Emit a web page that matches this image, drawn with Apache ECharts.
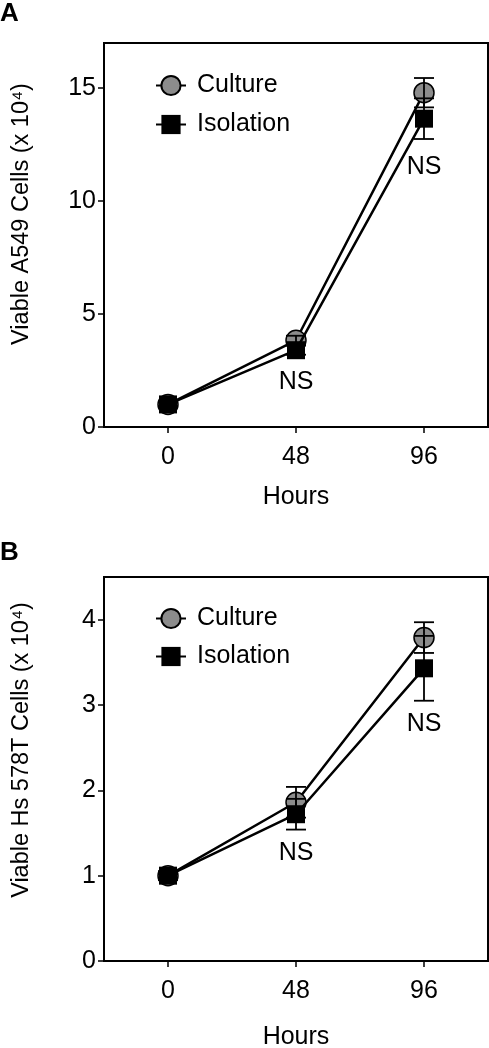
<!DOCTYPE html>
<html>
<head>
<meta charset="utf-8">
<script src="https://cdn.jsdelivr.net/npm/echarts@6/dist/echarts.min.js"></script>
<style>
html,body{margin:0;padding:0;background:#fff;}
#chart{width:489px;height:1048px;}
</style>
</head>
<body>
<div id="chart"></div>
<script>
// ---- data ----
const hours = [0, 48, 96];
const xTicks = [0, 48, 96];
const yTicksA = [0, 5, 10, 15];
const yTicksB = [0, 1, 2, 3, 4];
const cultureA = [1.0, 3.84, 14.8];
const cultureAErr = [0.1, 0.2, 0.65];
const isolationA = [1.0, 3.4, 13.65];
const isolationAErr = [0.1, 0.2, 0.9];
const cultureB = [1.0, 1.86, 3.79];
const cultureBErr = [0.05, 0.18, 0.18];
const isolationB = [1.0, 1.72, 3.43];
const isolationBErr = [0.05, 0.18, 0.38];
const nsA = [[48, 2.0], [96, 11.5]];
const nsB = [[48, 1.26], [96, 2.78]];
const seriesNames = ['Culture', 'Isolation'];
const yTitleA = 'Viable A549 Cells (x 10\u2074)';
const yTitleB = 'Viable Hs 578T Cells (x 10\u2074)';
const xTitle = 'Hours';

const FONT = 'Liberation Sans, Arial, sans-serif';
const FS = 25;
const FS_YT = 23.5;

function pairs(xs, ys) { return xs.map((x, i) => [x, ys[i]]); }
function errData(xs, ys, es) { return xs.map((x, i) => [x, ys[i] - es[i], ys[i] + es[i]]); }

function errRender(params, api) {
  const x = api.value(0);
  const lo = api.coord([x, api.value(1)]);
  const hi = api.coord([x, api.value(2)]);
  const hw = 10;
  const st = { stroke: '#000', lineWidth: 1.8 };
  return {
    type: 'group',
    children: [
      { type: 'line', shape: { x1: lo[0], y1: lo[1], x2: hi[0], y2: hi[1] }, style: st },
      { type: 'line', shape: { x1: lo[0] - hw, y1: lo[1], x2: lo[0] + hw, y2: lo[1] }, style: st },
      { type: 'line', shape: { x1: hi[0] - hw, y1: hi[1], x2: hi[0] + hw, y2: hi[1] }, style: st }
    ]
  };
}

function xAxisCfg(gi, gap) {
  return {
    type: 'value', gridIndex: gi, min: -24, max: 120, interval: 24,
    name: xTitle, nameLocation: 'middle', nameGap: gap,
    nameTextStyle: { fontFamily: FONT, fontSize: FS, color: '#000' },
    axisLine: { show: true, onZero: false, lineStyle: { color: '#000', width: 2 } },
    axisTick: { show: true, inside: false, length: 6, customValues: xTicks, lineStyle: { color: '#000', width: 1.5 } },
    axisLabel: { customValues: xTicks, margin: 18, fontFamily: FONT, fontSize: FS, color: '#000' },
    splitLine: { show: false }
  };
}
function yAxisCfg(gi, max, interval, ticks) {
  return {
    type: 'value', gridIndex: gi, min: 0, max: max, interval: interval,
    axisLine: { show: true, onZero: false, lineStyle: { color: '#000', width: 2 } },
    axisTick: { show: true, inside: false, length: 6, customValues: ticks, lineStyle: { color: '#000', width: 1.5 } },
    axisLabel: { customValues: ticks, margin: 8, fontFamily: FONT, fontSize: FS, color: '#000' },
    splitLine: { show: false }
  };
}

function lineSeries(name, gi, data, isCircle) {
  return {
    name: name, type: 'line', xAxisIndex: gi, yAxisIndex: gi,
    data: data,
    symbol: isCircle ? 'circle' : 'rect',
    symbolSize: isCircle ? 20 : 18,
    lineStyle: { color: '#000', width: 2.5 },
    itemStyle: isCircle ? { color: '#8c8c8c', borderColor: '#000', borderWidth: 1.5 } : { color: '#000', borderColor: '#000', borderWidth: 0 },
    z: isCircle ? 3 : 4,
    animation: false
  };
}
function errSeries(gi, data) {
  return {
    type: 'custom', xAxisIndex: gi, yAxisIndex: gi, data: data,
    renderItem: errRender, z: 6, silent: true, animation: false
  };
}
function nsSeries(gi, data) {
  return {
    type: 'scatter', xAxisIndex: gi, yAxisIndex: gi, data: data,
    symbolSize: 0, silent: true, animation: false,
    itemStyle: { opacity: 1 },
    label: { show: true, position: 'inside', formatter: 'NS', fontFamily: FONT, fontSize: FS, color: '#000', opacity: 1 }
  };
}

const chart = echarts.init(document.getElementById('chart'), null, { renderer: 'canvas' });
chart.setOption({
  animation: false,
  backgroundColor: '#fff',
  title: [
    { text: 'A', left: 0, top: 1, padding: 0, textStyle: { fontFamily: FONT, fontSize: 26, fontWeight: 'bold', color: '#000' } },
    { text: 'B', left: 0, top: 540, padding: 0, textStyle: { fontFamily: FONT, fontSize: 26, fontWeight: 'bold', color: '#000' } }
  ],
  grid: [
    { left: 104, top: 43, width: 384, height: 384, show: true, borderColor: '#000', borderWidth: 2, containLabel: false, outerBoundsMode: 'none' },
    { left: 104, top: 577, width: 384, height: 384, show: true, borderColor: '#000', borderWidth: 2, containLabel: false, outerBoundsMode: 'none' }
  ],
  legend: [
    { orient: 'vertical', left: 150, top: 68, itemWidth: 30, itemHeight: 24, itemGap: 14,
      data: seriesNames,
      textStyle: { fontFamily: FONT, fontSize: FS, color: '#000', padding: [0, 0, 0, 6] } },
    { orient: 'vertical', left: 150, top: 601, itemWidth: 30, itemHeight: 24, itemGap: 13,
      data: seriesNames,
      textStyle: { fontFamily: FONT, fontSize: FS, color: '#000', padding: [0, 0, 0, 6] } }
  ],
  xAxis: [xAxisCfg(0, 58), xAxisCfg(1, 64)],
  yAxis: [yAxisCfg(0, 17, 5, yTicksA), yAxisCfg(1, 4.5, 1, yTicksB)],
  graphic: [
    { type: 'text', x: 22, y: 214, rotation: Math.PI / 2,
      style: { text: yTitleA, fontFamily: FONT, fontSize: FS_YT, fill: '#000', align: 'center', verticalAlign: 'middle' } },
    { type: 'text', x: 22, y: 750, rotation: Math.PI / 2,
      style: { text: yTitleB, fontFamily: FONT, fontSize: FS_YT, fill: '#000', align: 'center', verticalAlign: 'middle' } }
  ],
  series: [
    lineSeries(seriesNames[0], 0, pairs(hours, cultureA), true),
    lineSeries(seriesNames[1], 0, pairs(hours, isolationA), false),
    errSeries(0, errData(hours, cultureA, cultureAErr)),
    errSeries(0, errData(hours, isolationA, isolationAErr)),
    nsSeries(0, nsA),
    lineSeries(seriesNames[0], 1, pairs(hours, cultureB), true),
    lineSeries(seriesNames[1], 1, pairs(hours, isolationB), false),
    errSeries(1, errData(hours, cultureB, cultureBErr)),
    errSeries(1, errData(hours, isolationB, isolationBErr)),
    nsSeries(1, nsB)
  ]
});
</script>
</body>
</html>
